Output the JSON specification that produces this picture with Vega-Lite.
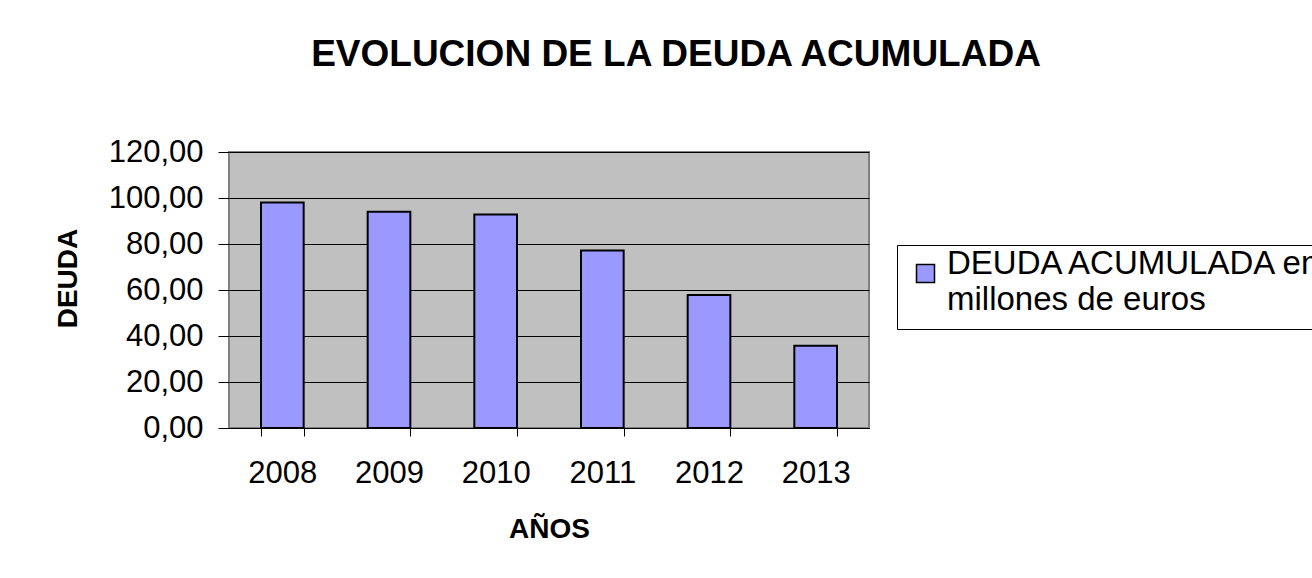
{
  "$schema": "https://vega.github.io/schema/vega-lite/v6.json",
  "autosize": {"type": "none"},
  "padding": {"left": 229, "top": 152, "right": 443, "bottom": 150},
  "width": 640,
  "height": 276,
  "background": "white",
  "title": {
    "text": "EVOLUCION DE LA DEUDA ACUMULADA",
    "font": "Liberation Sans",
    "fontSize": 37,
    "fontWeight": "bold",
    "color": "black",
    "anchor": "middle",
    "frame": "group",
    "baseline": "alphabetic",
    "dx": 127,
    "offset": 33
  },
  "data": {
    "values": [
      {"anio": "2008", "deuda": 98.0, "serie": "DEUDA ACUMULADA en millones de euros"},
      {"anio": "2009", "deuda": 94.0, "serie": "DEUDA ACUMULADA en millones de euros"},
      {"anio": "2010", "deuda": 92.8, "serie": "DEUDA ACUMULADA en millones de euros"},
      {"anio": "2011", "deuda": 77.2, "serie": "DEUDA ACUMULADA en millones de euros"},
      {"anio": "2012", "deuda": 57.8, "serie": "DEUDA ACUMULADA en millones de euros"},
      {"anio": "2013", "deuda": 35.8, "serie": "DEUDA ACUMULADA en millones de euros"}
    ]
  },
  "mark": {"type": "bar", "stroke": "black", "strokeWidth": 2, "opacity": 1},
  "encoding": {
    "x": {
      "field": "anio",
      "type": "nominal",
      "sort": null,
      "scale": {"paddingInner": 0.6, "paddingOuter": 0.3},
      "axis": {
        "title": "AÑOS",
        "labelAngle": 0,
        "tickBand": "extent",
        "ticks": true,
        "tickSize": 8,
        "tickColor": "black",
        "tickWidth": 1,
        "domain": true,
        "domainColor": "black",
        "domainWidth": 1,
        "grid": false,
        "labelFont": "Liberation Sans",
        "labelFontSize": 31,
        "labelColor": "black",
        "labelPadding": 22,
        "titleFont": "Liberation Sans",
        "titleFontSize": 28,
        "titleFontWeight": "bold",
        "titleColor": "black",
        "titleBaseline": "alphabetic",
        "titleY": 109,
        "titleX": 320
      }
    },
    "y": {
      "field": "deuda",
      "type": "quantitative",
      "scale": {"domain": [0, 120], "nice": false},
      "axis": {
        "title": "DEUDA",
        "values": [0, 20, 40, 60, 80, 100, 120],
        "labelExpr": "replace(format(datum.value, '.2f'), '.', ',')",
        "grid": true,
        "gridColor": "black",
        "gridWidth": 1,
        "gridOpacity": 1,
        "domain": false,
        "ticks": true,
        "tickSize": 11,
        "tickColor": "black",
        "tickWidth": 1,
        "labelFont": "Liberation Sans",
        "labelFontSize": 31,
        "labelColor": "black",
        "labelPadding": 15,
        "titleFont": "Liberation Sans",
        "titleFontSize": 28,
        "titleFontWeight": "bold",
        "titleColor": "black",
        "titleAngle": -90,
        "titleBaseline": "alphabetic",
        "titleAlign": "center",
        "titleX": -153,
        "titleY": 126
      }
    },
    "fill": {
      "field": "serie",
      "type": "nominal",
      "scale": {"range": ["#9999ff"]},
      "legend": {
        "title": null,
        "orient": "none",
        "legendX": 668,
        "legendY": 93,
        "padding": 12,
        "strokeColor": "black",
        "symbolType": "square",
        "symbolSize": 324,
        "symbolStrokeColor": "black",
        "symbolStrokeWidth": 1.5,
        "symbolOpacity": 1,
        "labelFont": "Liberation Sans",
        "labelFontSize": 33,
        "labelColor": "black",
        "labelLimit": 2000,
        "labelOffset": 5,
        "labelBaseline": "alphabetic",
        "labelExpr": "['DEUDA ACUMULADA en', 'millones de euros']"
      }
    }
  },
  "config": {
    "font": "Liberation Sans",
    "view": {"fill": "#c0c0c0", "stroke": "#808080", "strokeWidth": 2},
    "style": {"guide-label": {"lineHeight": 36}}
  }
}
